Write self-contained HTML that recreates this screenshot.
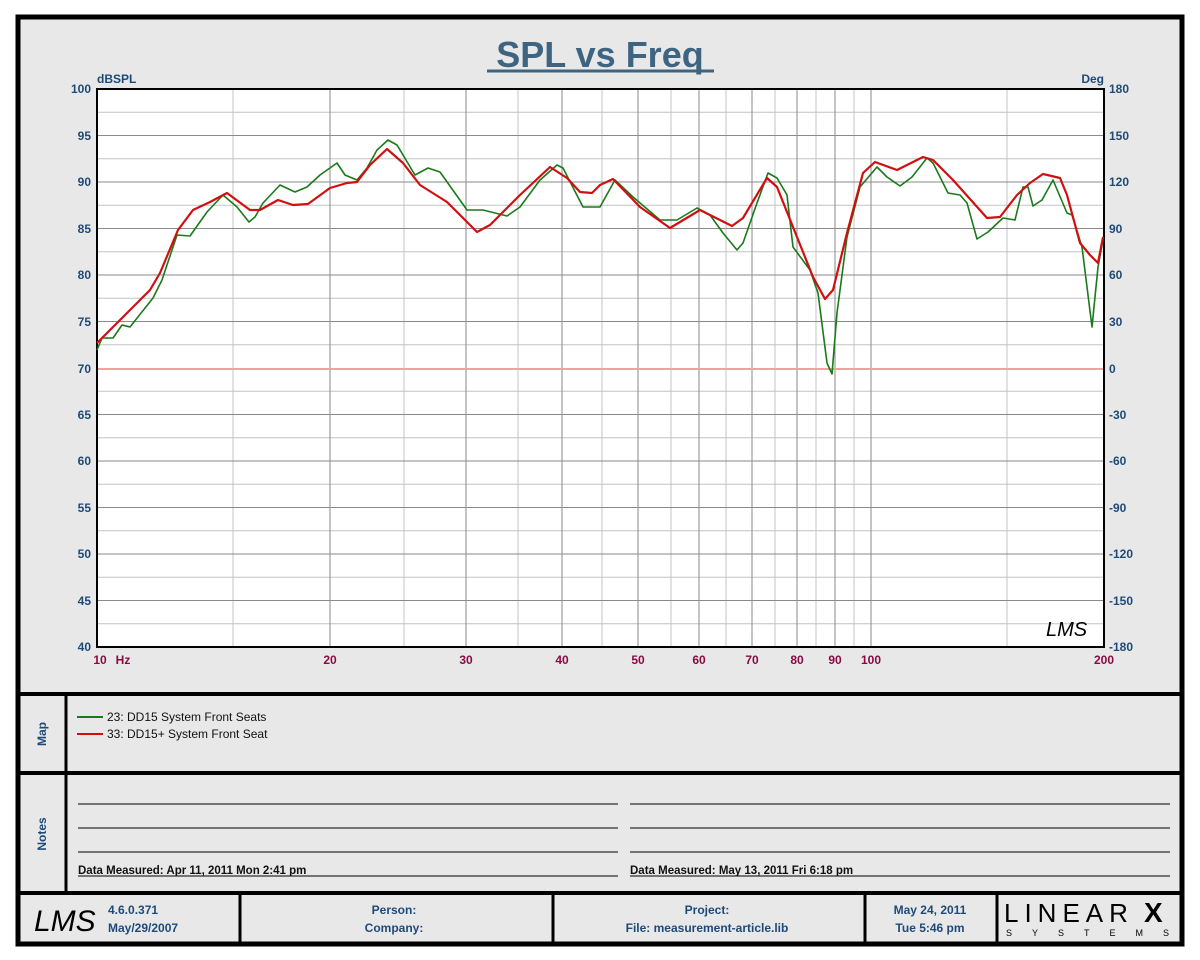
<!DOCTYPE html>
<html><head><meta charset="utf-8"><style>
html,body{margin:0;padding:0;background:#fff;}
svg{display:block;}
text{font-family:"Liberation Sans",Arial,sans-serif;}
</style></head><body>
<svg width="1200" height="960" viewBox="0 0 1200 960" xmlns="http://www.w3.org/2000/svg">
<rect x="0" y="0" width="1200" height="960" fill="#fff"/>
<rect x="18" y="17" width="1164" height="927" fill="#e8e8e8" stroke="#000" stroke-width="5"/>
<!-- title -->
<text x="600" y="67" text-anchor="middle" font-size="36" font-weight="bold" fill="#3d6480">SPL vs Freq</text>
<line x1="487" y1="71" x2="714" y2="71" stroke="#3d6480" stroke-width="3"/>
<!-- plot -->
<rect x="97" y="89" width="1007" height="558" fill="#fff"/>
<g stroke="#c4c4c4" stroke-width="1">
<line x1="97" x2="1104" y1="112.25" y2="112.25"/><line x1="97" x2="1104" y1="158.75" y2="158.75"/><line x1="97" x2="1104" y1="205.25" y2="205.25"/><line x1="97" x2="1104" y1="251.75" y2="251.75"/><line x1="97" x2="1104" y1="298.25" y2="298.25"/><line x1="97" x2="1104" y1="344.75" y2="344.75"/><line x1="97" x2="1104" y1="391.25" y2="391.25"/><line x1="97" x2="1104" y1="437.75" y2="437.75"/><line x1="97" x2="1104" y1="484.25" y2="484.25"/><line x1="97" x2="1104" y1="530.75" y2="530.75"/><line x1="97" x2="1104" y1="577.25" y2="577.25"/><line x1="97" x2="1104" y1="623.75" y2="623.75"/>
<line y1="89" y2="647" x1="233" x2="233"/><line y1="89" y2="647" x1="404" x2="404"/><line y1="89" y2="647" x1="518" x2="518"/><line y1="89" y2="647" x1="602" x2="602"/><line y1="89" y2="647" x1="671" x2="671"/><line y1="89" y2="647" x1="726" x2="726"/><line y1="89" y2="647" x1="775" x2="775"/><line y1="89" y2="647" x1="816" x2="816"/><line y1="89" y2="647" x1="854" x2="854"/><line y1="89" y2="647" x1="1007" x2="1007"/>
</g>
<g stroke="#8a8a8a" stroke-width="1">
<line x1="97" x2="1104" y1="135.5" y2="135.5"/><line x1="97" x2="1104" y1="182" y2="182"/><line x1="97" x2="1104" y1="228.5" y2="228.5"/><line x1="97" x2="1104" y1="275" y2="275"/><line x1="97" x2="1104" y1="321.5" y2="321.5"/><line x1="97" x2="1104" y1="414.5" y2="414.5"/><line x1="97" x2="1104" y1="461" y2="461"/><line x1="97" x2="1104" y1="507.5" y2="507.5"/><line x1="97" x2="1104" y1="554" y2="554"/><line x1="97" x2="1104" y1="600.5" y2="600.5"/>
<line y1="89" y2="647" x1="330" x2="330"/><line y1="89" y2="647" x1="466" x2="466"/><line y1="89" y2="647" x1="562" x2="562"/><line y1="89" y2="647" x1="638" x2="638"/><line y1="89" y2="647" x1="699" x2="699"/><line y1="89" y2="647" x1="752" x2="752"/><line y1="89" y2="647" x1="797" x2="797"/><line y1="89" y2="647" x1="835" x2="835"/><line y1="89" y2="647" x1="871" x2="871"/>
</g>
<line x1="97" x2="1104" y1="369" y2="369" stroke="#f4a0a0" stroke-width="2"/>
<rect x="97" y="89" width="1007" height="558" fill="none" stroke="#000" stroke-width="2"/>
<!-- curves -->
<polyline fill="none" stroke="#1a7a1a" stroke-width="1.6" stroke-linejoin="round" points="97,350 102,338 113,338 122,325 130,327 153,298 162,280 177,235 190,236 207,212 223,195 237,207 249,222 255,217 263,203 280,185 295,192 307,187 320,175 337,163 345,175 357,180 367,168 377,150 388,140 397,145 415,175 428,168 440,172 467,210 483,210 507,216 520,207 540,180 557,165 563,168 583,207 600,207 615,180 633,197 660,220 677,220 697,208 710,215 723,233 737,250 743,243 757,203 768,173 777,178 787,195 793,247 810,270 818,293 827,363 832,374 837,313 847,237 860,187 877,167 887,177 900,186 912,177 927,158 933,163 948,193 960,195 967,203 977,239 988,232 1003,218 1015,220 1023,187 1028,187 1033,206 1042,200 1053,180 1067,213 1072,215 1082,247 1092,327 1098,267 1103,240"/>
<polyline fill="none" stroke="#d01010" stroke-width="2.2" stroke-linejoin="round" points="97,343 110,330 127,313 150,290 160,273 178,230 193,210 210,202 227,193 250,210 260,210 278,200 293,205 308,204 330,188 347,183 357,182 370,165 387,149 403,163 420,185 447,202 477,232 490,225 520,195 550,167 567,178 580,192 592,193 600,185 613,179 640,207 670,228 700,210 732,226 743,218 767,178 777,187 793,227 813,277 825,299 833,290 847,233 863,173 875,162 897,170 923,157 933,160 953,180 987,218 1000,217 1017,195 1030,183 1043,174 1060,178 1067,195 1080,243 1090,255 1098,263 1103,237"/>
<text x="1046" y="636" font-size="20" font-style="italic" font-family="Liberation Serif,serif" fill="#000">LMS</text>
<!-- axis labels -->
<g font-size="12" font-weight="bold" fill="#1e4a78">
<text x="97" y="83">dBSPL</text>
<text x="1104" y="83" text-anchor="end">Deg</text>
<g text-anchor="end">
<text x="91" y="93">100</text><text x="91" y="140">95</text><text x="91" y="186">90</text><text x="91" y="233">85</text><text x="91" y="279">80</text><text x="91" y="326">75</text><text x="91" y="373">70</text><text x="91" y="419">65</text><text x="91" y="465">60</text><text x="91" y="512">55</text><text x="91" y="558">50</text><text x="91" y="605">45</text><text x="91" y="651">40</text>
</g>
<g text-anchor="start">
<text x="1109" y="93">180</text><text x="1109" y="140">150</text><text x="1109" y="186">120</text><text x="1109" y="233">90</text><text x="1109" y="279">60</text><text x="1109" y="326">30</text><text x="1109" y="373">0</text><text x="1109" y="419">-30</text><text x="1109" y="465">-60</text><text x="1109" y="512">-90</text><text x="1109" y="558">-120</text><text x="1109" y="605">-150</text><text x="1109" y="651">-180</text>
</g>
</g>
<g font-size="12" font-weight="bold" fill="#8b0a45" text-anchor="middle">
<text x="100" y="664">10</text><text x="123" y="664">Hz</text><text x="330" y="664">20</text><text x="466" y="664">30</text><text x="562" y="664">40</text><text x="638" y="664">50</text><text x="699" y="664">60</text><text x="752" y="664">70</text><text x="797" y="664">80</text><text x="835" y="664">90</text><text x="871" y="664">100</text><text x="1104" y="664">200</text>
</g>
<!-- section dividers -->
<g stroke="#000" stroke-width="4">
<line x1="18" x2="1182" y1="694" y2="694"/>
<line x1="18" x2="1182" y1="773" y2="773"/>
<line x1="18" x2="1182" y1="893" y2="893"/>
<line x1="66" x2="66" y1="694" y2="893" stroke-width="3"/>
<line x1="240" x2="240" y1="893" y2="944" stroke-width="3"/>
<line x1="553" x2="553" y1="893" y2="944" stroke-width="3"/>
<line x1="865" x2="865" y1="893" y2="944" stroke-width="3"/>
<line x1="997" x2="997" y1="893" y2="944" stroke-width="3"/>
</g>
<g font-size="12" font-weight="bold" fill="#1e4a78">
<text transform="translate(46,734) rotate(-90)" text-anchor="middle">Map</text>
<text transform="translate(46,834) rotate(-90)" text-anchor="middle">Notes</text>
</g>
<!-- legend -->
<line x1="77" x2="103" y1="717" y2="717" stroke="#1a7a1a" stroke-width="2"/>
<line x1="77" x2="103" y1="734" y2="734" stroke="#d01010" stroke-width="2"/>
<g font-size="12" fill="#111">
<text x="107" y="721">23: DD15 System Front Seats</text>
<text x="107" y="738">33: DD15+ System Front Seat</text>
</g>
<!-- notes lines -->
<g stroke="#000" stroke-width="1">
<line x1="78" x2="618" y1="804" y2="804"/><line x1="78" x2="618" y1="828" y2="828"/><line x1="78" x2="618" y1="852" y2="852"/><line x1="78" x2="618" y1="876" y2="876"/>
<line x1="630" x2="1170" y1="804" y2="804"/><line x1="630" x2="1170" y1="828" y2="828"/><line x1="630" x2="1170" y1="852" y2="852"/><line x1="630" x2="1170" y1="876" y2="876"/>
</g>
<g font-size="11.5" font-weight="bold" fill="#111">
<text x="78" y="874">Data Measured: Apr 11, 2011  Mon  2:41 pm</text>
<text x="630" y="874">Data Measured: May 13, 2011  Fri  6:18 pm</text>
</g>
<!-- footer -->
<text x="34" y="931" font-size="30" font-style="italic" font-family="Liberation Serif,serif" fill="#000">LMS</text>
<g font-size="12" font-weight="bold" fill="#1e4a78">
<text x="108" y="914">4.6.0.371</text>
<text x="108" y="932">May/29/2007</text>
<text x="394" y="914" text-anchor="middle">Person:</text>
<text x="394" y="932" text-anchor="middle">Company:</text>
<text x="707" y="914" text-anchor="middle">Project:</text>
<text x="707" y="932" text-anchor="middle">File: measurement-article.lib</text>
<text x="930" y="914" text-anchor="middle">May 24, 2011</text>
<text x="930" y="932" text-anchor="middle">Tue  5:46 pm</text>
</g>
<text x="1004" y="922" font-size="26" font-family="Liberation Serif,serif" fill="#000" letter-spacing="6">LINEAR</text>
<text x="1144" y="922" font-size="28" font-weight="bold" fill="#000">X</text>
<text x="1006" y="936" font-size="9" fill="#000" letter-spacing="20">SYSTEMS</text>
</svg>
</body></html>
